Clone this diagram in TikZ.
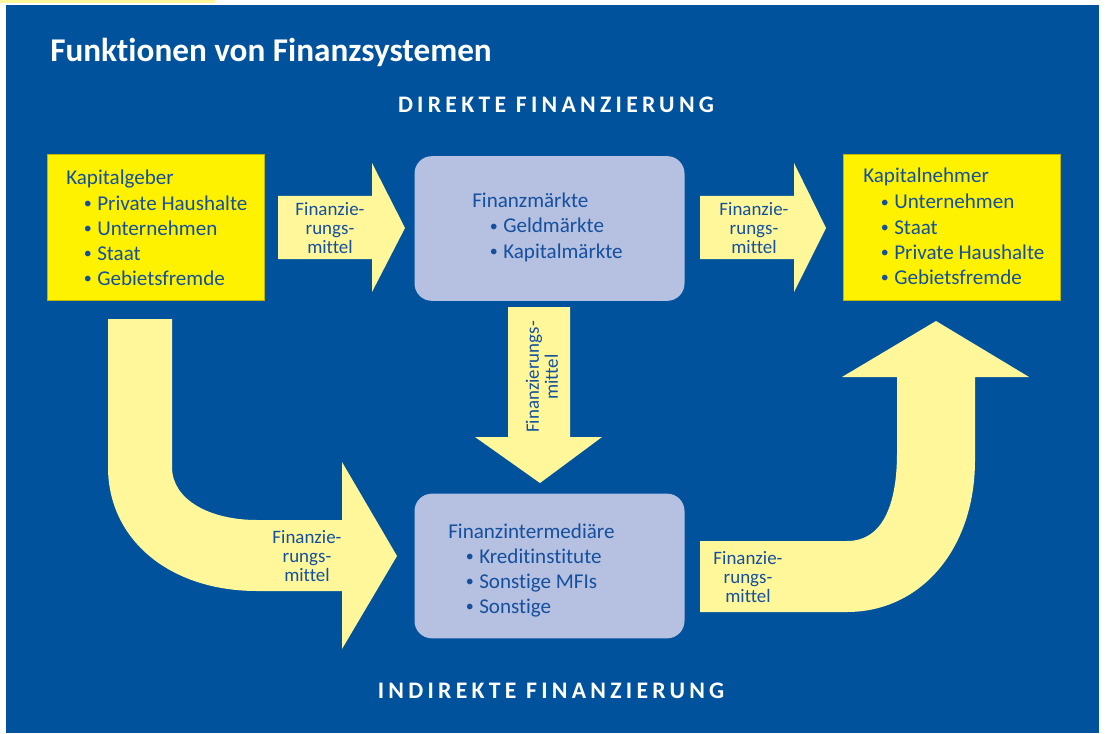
\documentclass[tikz,border=0pt]{standalone}
\usepackage{fontspec}
\setmainfont[Ligatures={NoCommon}]{Carlito}
\newfontfamily\spacedfont[LetterSpace=18,Ligatures={NoCommon}]{Carlito}
\definecolor{bgblue}{HTML}{00529C}
\definecolor{txtblue}{HTML}{14509E}
\definecolor{boxyellow}{HTML}{FFF200}
\definecolor{arrowyellow}{HTML}{FFF799}
\definecolor{lavender}{HTML}{B6C0E0}
\tikzset{
  ybox/.style={fill=boxyellow, draw=boxyellow!75!black, line width=0.4pt, inner sep=0pt, minimum width=163pt, minimum height=109.5pt},
  lbox/.style={fill=lavender, rounded corners=13pt, inner sep=0pt, minimum width=202.5pt, minimum height=108.5pt},
  blockarrow/.style={fill=arrowyellow},
  boxtxt/.style={text=txtblue, font=\fontsize{15.8pt}{18pt}\selectfont, inner sep=0pt, anchor=base west},
  arrtxt/.style={text=txtblue, font=\fontsize{14.2pt}{14.3pt}\selectfont, align=center, inner sep=0pt},
  headline/.style={text=white, font=\spacedfont\bfseries\fontsize{17.8pt}{18pt}\selectfont, inner sep=0pt, anchor=base}
}
\newcommand{\bul}[1]{\llap{\raisebox{1.2pt}{\fontsize{12pt}{12pt}\selectfont\textbullet}\hspace{4pt}}#1}
\begin{document}
\begin{tikzpicture}[x=0.75pt,y=-0.75pt]
\useasboundingbox (0,0) rectangle (1105,734);
\fill[white] (0,0) rectangle (1105,734);
\fill[arrowyellow] (0,0) rectangle (215,3);
\fill[bgblue] (6,5) rectangle (1099,733);

% title and headings
\node[text=white, font=\bfseries\fontsize{24.9pt}{28pt}\selectfont, inner sep=0pt, anchor=base west] (title) at (50,62) {Funktionen von Finanzsystemen};
\node[headline] (direkt) at (556,113) {DIREKTE FINANZIERUNG};
\node[headline] (indirekt) at (551,698) {INDIREKTE FINANZIERUNG};

% boxes
\node[ybox] (geber) at (155.5,227) {};
\node[ybox] (nehmer) at (952,227) {};
\node[lbox] (markt) at (549.5,228.5) {};
\node[lbox] (inter) at (549.5,566) {};

% box texts
\node[boxtxt] (g0) at (66,185) {Kapitalgeber};
\node[boxtxt] (g1) at (97,210) {\bul{Private Haushalte}};
\node[boxtxt] (g2) at (97,235) {\bul{Unternehmen}};
\node[boxtxt] (g3) at (97,260) {\bul{Staat}};
\node[boxtxt] (g4) at (97,285) {\bul{Gebietsfremde}};

\node[boxtxt] (n0) at (863,183) {Kapitalnehmer};
\node[boxtxt] (n1) at (894,209) {\bul{Unternehmen}};
\node[boxtxt] (n2) at (894,234) {\bul{Staat}};
\node[boxtxt] (n3) at (894,259) {\bul{Private Haushalte}};
\node[boxtxt] (n4) at (894,284) {\bul{Gebietsfremde}};

\node[boxtxt] (m0) at (472,208) {Finanzmärkte};
\node[boxtxt] (m1) at (503,233) {\bul{Geldmärkte}};
\node[boxtxt] (m2) at (503,258) {\bul{Kapitalmärkte}};

\node[boxtxt] (i0) at (448,538) {Finanzintermediäre};
\node[boxtxt] (i1) at (479,563) {\bul{Kreditinstitute}};
\node[boxtxt] (i2) at (479,588) {\bul{Sonstige MFIs}};
\node[boxtxt] (i3) at (479,613) {\bul{Sonstige}};

% straight block arrows
\fill[blockarrow] (278,196) -- (372,196) -- (372,163) -- (405,228) -- (372,292) -- (372,259) -- (278,259) -- cycle;
\fill[blockarrow] (700,196) -- (794,196) -- (794,163) -- (826,228) -- (794,292) -- (794,259) -- (700,259) -- cycle;
\fill[blockarrow] (508,307) -- (570,307) -- (570,437) -- (602,437) -- (540,483) -- (475,437) -- (508,437) -- cycle;

% curved block arrows
\fill[blockarrow] (108,319) -- (172,319) -- (172,467)
  .. controls (172,500) and (210,520) .. (257,520)
  -- (342,520) -- (342,462) -- (397,556) -- (342,649) -- (342,591) -- (257,591)
  .. controls (170,591) and (108,540) .. (108,467) -- cycle;
\fill[blockarrow] (700,541) -- (847,541)
  .. controls (885,541) and (897,500) .. (897,453)
  -- (897,377) -- (842,377) -- (936,321) -- (1029,377) -- (975,377) -- (975,460)
  .. controls (975,550) and (920,612) .. (847,612) -- (700,612) -- cycle;

% arrow labels
\node[arrtxt] (a1) at (330,228) {Finanzie-\\rungs-\\mittel};
\node[arrtxt] (a2) at (754,228) {Finanzie-\\rungs-\\mittel};
\node[arrtxt, rotate=90] (a3) at (542,377) {Finanzierungs-\\mittel};
\node[arrtxt] (a4) at (307,556) {Finanzie-\\rungs-\\mittel};
\node[arrtxt] (a5) at (748,577) {Finanzie-\\rungs-\\mittel};
\end{tikzpicture}
\end{document}
